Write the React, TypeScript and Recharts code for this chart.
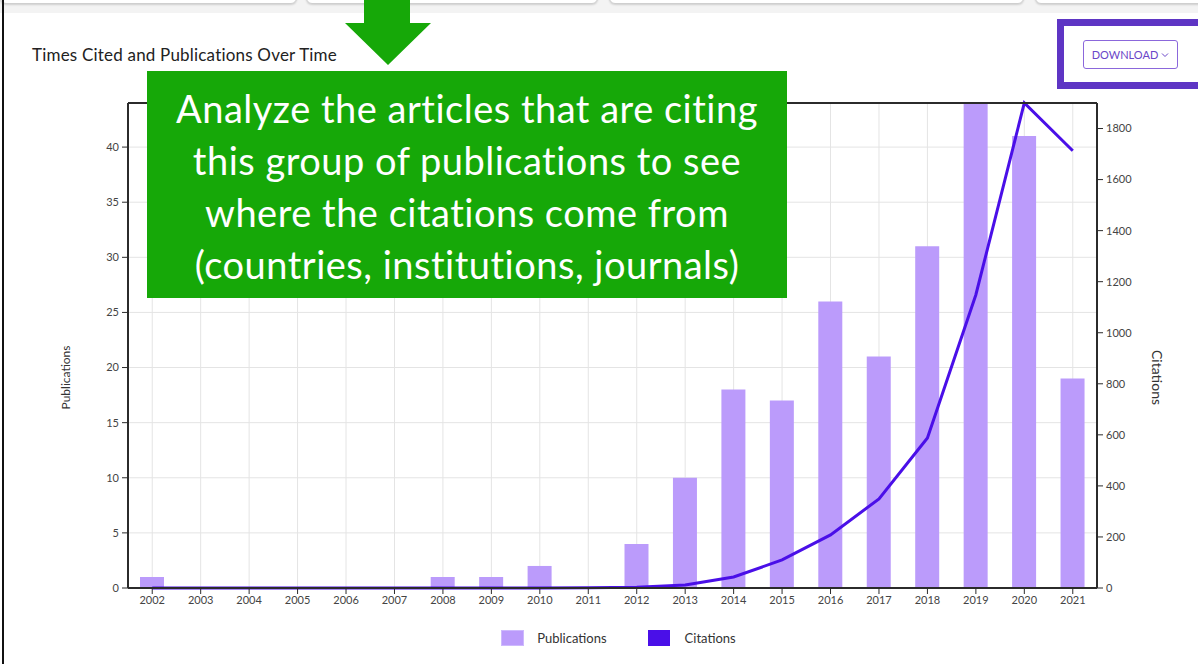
import React from "react";
import { ComposedChart, Bar, Line, XAxis, YAxis, CartesianGrid, Legend, Label } from "recharts";

const years = ["2002", "2003", "2004", "2005", "2006", "2007", "2008", "2009", "2010", "2011", "2012", "2013", "2014", "2015", "2016", "2017", "2018", "2019", "2020", "2021"];
const publications = [1, 0, 0, 0, 0, 0, 1, 1, 2, 0, 4, 10, 18, 17, 26, 21, 31, 44, 41, 19];
const citations = [0, 0, 0, 0, 0, 0, 0, 0, 0, 1, 3, 12, 43, 110, 208, 349, 588, 1149, 1900, 1713];
const pubTicks = [0, 5, 10, 15, 20, 25, 30, 35, 40];
const citeTicks = [0, 200, 400, 600, 800, 1000, 1200, 1400, 1600, 1800];

const data = years.map((year, i) => ({ year, publications: publications[i], citations: citations[i] }));

const PUB_COLOR = "#bb9bfb";
const CITE_COLOR = "#4a0fe8";
const AXIS = "#2b2b2b";
const FONT = "Lato, 'Noto Sans', sans-serif";

// rotated axis title, placed a bit below the middle like the original
const axisTitle = (value: string, angle: number, dx: number, size: number) => (props: any) => {
  const vb = props.viewBox || {};
  const cx = vb.x + dx;
  const cy = vb.y + vb.height / 2 + 32;
  return (
    <text x={cx} y={cy} transform={`rotate(${angle}, ${cx}, ${cy})`} textAnchor="middle"
      dominantBaseline="central" fontSize={size} fill="#333" fontFamily={FONT}>{value}</text>
  );
};

const LegendContent = () => (
  <div style={{ display: "flex", justifyContent: "center", alignItems: "center", height: 30, paddingTop: 10, paddingLeft: 20, boxSizing: "border-box", fontFamily: FONT, fontSize: 13, color: "#333" }}>
    <span style={{ width: 23, height: 16, background: PUB_COLOR, border: "1px solid #cdb9fd", boxSizing: "border-box" }} />
    <span style={{ marginLeft: 13 }}>Publications</span>
    <span style={{ width: 22, height: 16, background: CITE_COLOR, marginLeft: 41 }} />
    <span style={{ marginLeft: 15 }}>Citations</span>
  </div>
);

export default function App() {
  return (
    <div style={{ position: "absolute", left: 0, top: 0, width: 1198, height: 664, background: "#fff", overflow: "hidden", fontFamily: FONT }}>
      {/* tab strip at the top of the screenshot */}
      <div style={{ position: "absolute", left: 0, top: 0, width: 1198, height: 13, background: "#f3f3f3" }} />
      {[[0, 297], [306, 598], [609, 1024], [1035, 1220]].map(([a, b]) => (
        <div key={a} style={{ position: "absolute", left: a, top: -10, width: b - a, height: 14, background: "#fff", border: "1px solid #cfcfcf", borderRadius: 6, boxShadow: "0 1px 2px rgba(0,0,0,0.15)", boxSizing: "border-box" }} />
      ))}
      <div style={{ position: "absolute", left: 2, top: 0, width: 2, height: 664, background: "#111" }} />

      <div style={{ position: "absolute", left: 32, top: 45, fontSize: 17, lineHeight: "20px", letterSpacing: 0.2, color: "#222" }}>
        Times Cited and Publications Over Time
      </div>

      <div style={{ position: "absolute", left: 0, top: 0 }}>
        <ComposedChart width={1198} height={664} data={data} margin={{ top: 102, right: 31, bottom: 16, left: 50 }}>
          <CartesianGrid xAxisId="x" yAxisId="left" stroke="#e4e4e4" />
          <XAxis xAxisId="top" orientation="top" dataKey="year" height={1} tick={false} tickLine={false} axisLine={{ stroke: AXIS, strokeWidth: 2 }} />
          <XAxis xAxisId="x" dataKey="year" height={30} tickSize={6} tickMargin={2} interval={0}
            tick={{ fontSize: 11, fill: "#444", fontFamily: FONT }} tickLine={{ stroke: AXIS }} axisLine={{ stroke: AXIS, strokeWidth: 2 }} />
          <YAxis yAxisId="left" width={78} domain={[0, "dataMax"]} ticks={pubTicks} tickSize={6} tickMargin={3}
            tick={{ fontSize: 11, fill: "#444", fontFamily: FONT }} tickLine={{ stroke: AXIS }} axisLine={{ stroke: AXIS, strokeWidth: 2 }}>
            <Label content={axisTitle("Publications", -90, 15, 12)} />
          </YAxis>
          <YAxis yAxisId="right" orientation="right" width={70} domain={[0, "dataMax"]} ticks={citeTicks} tickSize={6} tickMargin={3}
            tick={{ fontSize: 11, fill: "#444", fontFamily: FONT }} tickLine={{ stroke: AXIS }} axisLine={{ stroke: AXIS, strokeWidth: 2 }}>
            <Label content={axisTitle("Citations", 90, 60, 14)} />
          </YAxis>
          <Legend verticalAlign="bottom" content={<LegendContent />} />
          <Bar xAxisId="x" yAxisId="left" dataKey="publications" name="Publications" fill={PUB_COLOR} barSize={24} isAnimationActive={false} />
          <Line xAxisId="x" yAxisId="right" dataKey="citations" name="Citations" type="linear" stroke={CITE_COLOR} strokeWidth={3} dot={false} activeDot={false} isAnimationActive={false} />
        </ComposedChart>
      </div>

      {/* annotation overlay */}
      <svg width={1198} height={80} style={{ position: "absolute", left: 0, top: 0 }}>
        <polygon points="364,0 410,0 410,23 431,23 388,65 345,23 364,23" fill="#16a808" />
      </svg>
      <div style={{ position: "absolute", left: 147, top: 71, width: 640, height: 227, background: "#16a808", color: "#fff", fontSize: 38, lineHeight: "52px", letterSpacing: 0.5, textAlign: "center", paddingTop: 11, boxSizing: "border-box" }}>
        Analyze the articles that are citing<br />this group of publications to see<br />where the citations come from<br />(countries, institutions, journals)
      </div>

      <div style={{ position: "absolute", left: 1057, top: 19, width: 160, height: 70, border: "7px solid #5e35c4", boxSizing: "border-box" }} />
      <div style={{ position: "absolute", left: 1083, top: 40, width: 95, height: 29, border: "1.5px solid #8b67db", borderRadius: 3, boxSizing: "border-box", display: "flex", alignItems: "center", justifyContent: "center", fontSize: 11, color: "#6a46c8" }}>
        DOWNLOAD
        <svg width={8} height={6} style={{ marginLeft: 3 }}>
          <polyline points="1,1.5 4,4.5 7,1.5" fill="none" stroke="#6a46c8" strokeWidth={1} />
        </svg>
      </div>
    </div>
  );
}
